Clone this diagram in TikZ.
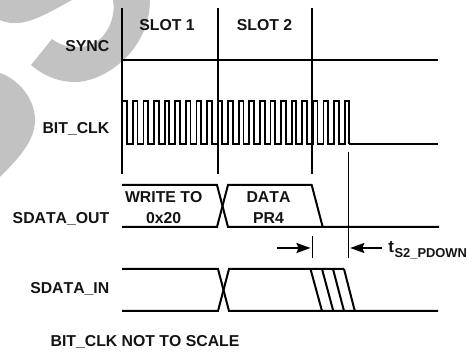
\documentclass[tikz,border=0pt]{standalone}
\usepackage{fontspec}
\setmainfont{Liberation Sans}[Kerning=Off]
\usetikzlibrary{arrows.meta}
\definecolor{wm}{gray}{0.76}
\tikzset{
  x=1pt,y=-1pt,
  sig/.style={line width=2pt,line join=miter},
  clk/.style={line width=1.8pt,line join=miter},
  slot/.style={line width=2pt},
  thin dim/.style={line width=1pt},
  dimarrow/.style={line width=2pt,-{Stealth[length=14pt,width=10pt,inset=2pt]}},
  lab/.style={font=\bfseries\fontsize{15.8}{18}\selectfont,inner sep=0pt,text=black!92,text height=11.4pt,text depth=0pt},
  tag/.style={lab,anchor=east},
  ctr/.style={inner sep=0pt,text=black!92,align=center,font=\bfseries\fontsize{15.8}{20.5}\selectfont},
}
\begin{document}
\begin{tikzpicture}
\useasboundingbox (0,0) rectangle (467,352);
% watermark
\fill[wm] (0,0) -- (72,0) .. controls (50,12) and (30,24) .. (14,23) .. controls (9,23) and (4,22) .. (0,20) -- cycle;
\fill[wm] (113,0) .. controls (115,12) and (112,28) .. (100,39) .. controls (87,50) and (66,50) .. (52,39) -- (31,65)
  .. controls (45,77) and (60,82) .. (75,82) .. controls (105,82) and (150,50) .. (150,0) -- cycle;
\fill[wm] (0,73) .. controls (20,80) and (35,100) .. (35,120) .. controls (35,140) and (20,157) .. (0,177) -- cycle;
% slot boundaries
\coordinate (s1t) at (121.6,8); \coordinate (s1b) at (121.6,174);
\coordinate (s2t) at (217.8,8); \coordinate (s2b) at (217.8,174);
\coordinate (s3t) at (312,8); \coordinate (s3b) at (312,174);
\draw[slot] (s1t) -- (s1b);
\draw[slot] (s2t) -- (s2b);
\draw[slot] (s3t) -- (s3b);
% SYNC
\draw[sig] (122,60.2) -- (438,60.2);
% BIT_CLK
\draw[clk] (122,101) -- (127,101) -- (127,144)
  \foreach \i in {0,...,20} { -- ++(5.9,0) -- ++(0,-43) -- ++(4.686,0) -- ++(0,43) } -- (349.3,144);
\draw[sig] (349.3,144) -- (438,144);
% SDATA_OUT
\draw[sig] (122,185) -- (217,185) -- (228,227) -- (439,227);
\draw[sig] (122,227) -- (217,227) -- (228,185) -- (311.7,185) -- (322.7,227);
% SDATA_IN
\draw[sig] (122,269) -- (218,269) -- (229,311) -- (438,311);
\draw[sig] (122,311) -- (218,311) -- (229,269) -- (344,269);
\draw[sig] (310.5,269) -- (322,311) (322,269) -- (333.3,311) (333,269) -- (344,311) (344,269) -- (354.8,311);
% dimension
\coordinate (d1t) at (312.6,236); \coordinate (d1b) at (312.6,258);
\coordinate (d2t) at (348.3,152); \coordinate (d2b) at (348.3,258);
\coordinate (a1s) at (277,248); \coordinate (a1e) at (310.5,248);
\coordinate (a2s) at (382,248); \coordinate (a2e) at (350.3,248);
\draw[thin dim] (d1t) -- (d1b);
\draw[thin dim] (d2t) -- (d2b);
\draw[dimarrow] (a1s) -- (a1e);
\draw[dimarrow] (a2s) -- (a2e);
% labels
\node[lab] (slot1) at (167,24.5) {SLOT 1};
\node[lab] (slot2) at (264.5,24.5) {SLOT 2};
\node[tag] (sync) at (109.5,45.7) {SYNC};
\node[tag] (bitclk) at (109.5,128.3) {BIT\_CLK};
\node[ctr] (wr) at (163.7,207.4) {WRITE TO\\0x20};
\node[ctr] (pr) at (268.5,207.4) {DATA\\PR4};
\node[tag] (sdo) at (109.5,218.3) {SDATA\_OUT};
\node[tag] (sdi) at (109.5,288.3) {SDATA\_IN};
\node[lab] (nts) at (145,340.7) {BIT\_CLK NOT TO SCALE};
\node[anchor=base west,inner sep=0pt,text=black!92,font=\bfseries\fontsize{17}{19}\selectfont] (tl) at (388.2,253) {t\kern0.5pt\raisebox{-4.7pt}{\fontsize{12.9}{14}\selectfont S2\_PDOWN}};
\end{tikzpicture}
\end{document}
